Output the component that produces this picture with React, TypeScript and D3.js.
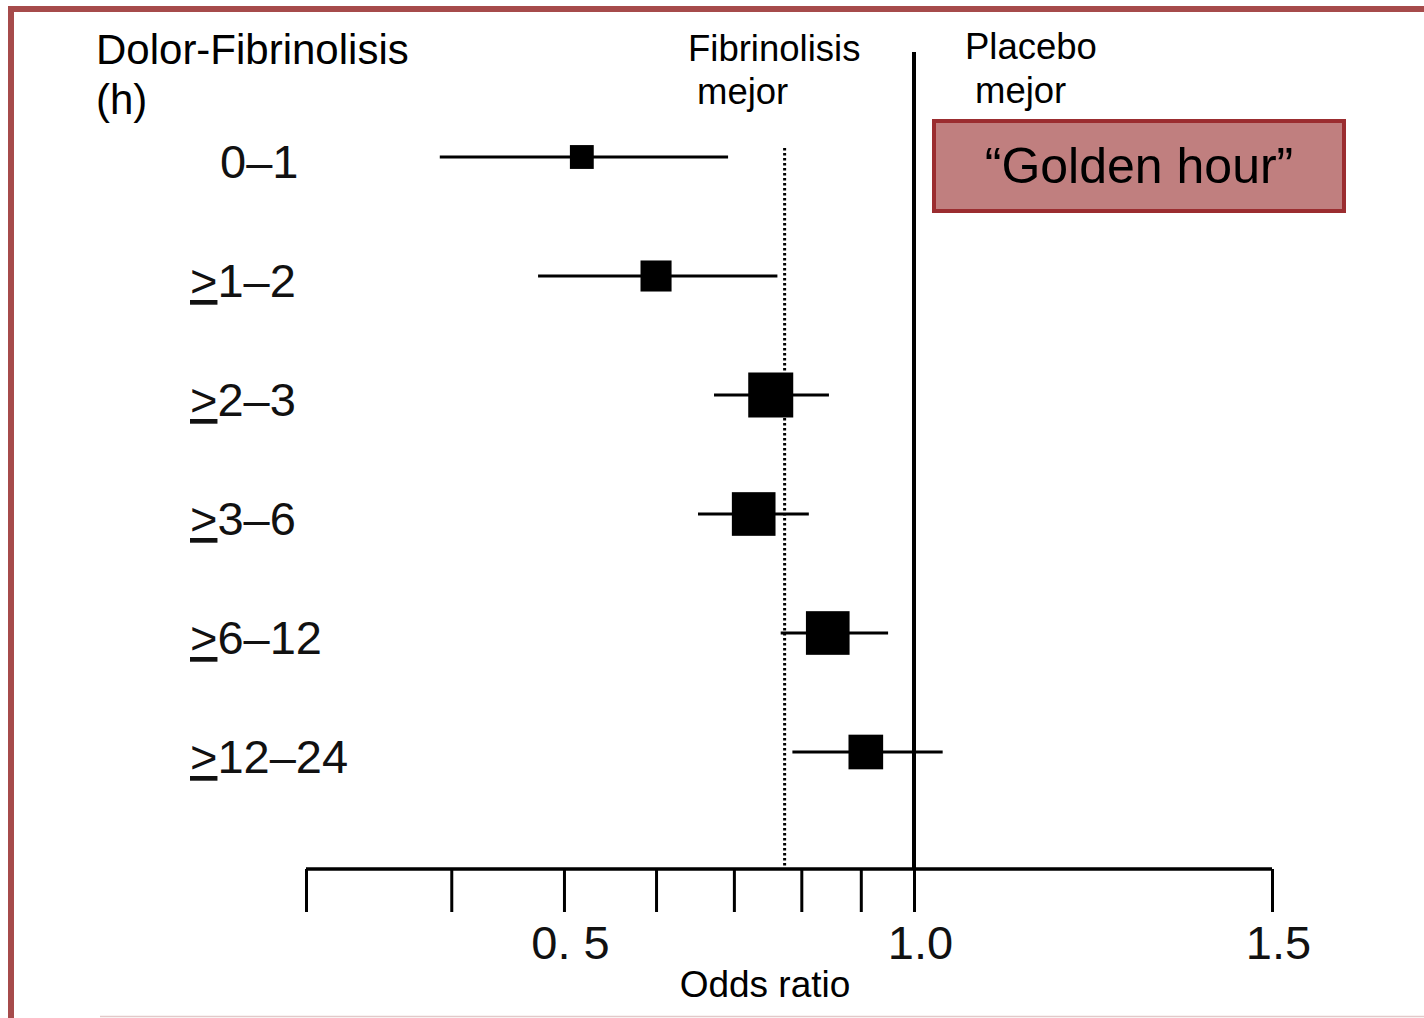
import React, { useRef, useEffect } from 'react';
import * as d3 from 'd3';

const width = 1424;
const height = 1018;

// time from pain onset to fibrinolysis (h)
const categories = ['0–1', '1–2', '2–3', '3–6', '6–12', '12–24'];
const oddsRatio = [0.518, 0.6, 0.753, 0.728, 0.843, 0.909];
const ciLow = [0.391, 0.475, 0.673, 0.652, 0.768, 0.786];
const ciHigh = [0.692, 0.763, 0.845, 0.812, 0.95, 1.033];
// relative weight of each subgroup (box size)
const weights = [0.53, 0.69, 1.0, 0.97, 0.97, 0.77];
const pooledOR = 0.774;
const tickValues = [0.3, 0.4, 0.5, 0.6, 0.7, 0.8, 0.9, 1.0, 1.5];
const tickLabels: Record<string, string> = { '0.5': '0. 5', '1': '1.0', '1.5': '1.5' };

const font = '"Liberation Sans", Arial, sans-serif';
const frameColor = '#a64b4b';

const App = () => {
  const axisRef = useRef<SVGGElement>(null);

  // log scale, with the 1.5 end glued on as in the original figure
  const x = d3.scaleLog().domain([0.3, 1, 1.5]).range([306, 914, 1272]);
  const y = d3.scalePoint<string>().domain(categories).range([157, 752]);
  const box = d3.scaleLinear().domain([0, 1]).range([0, 45]);
  const axisY = 869;

  useEffect(() => {
    const g = d3.select(axisRef.current);
    g.selectAll('*').remove();
    g.call(
      d3.axisBottom(x)
        .tickValues(tickValues)
        .tickSize(43)
        .tickSizeOuter(0)
        .tickPadding(14)
        .tickFormat((d) => tickLabels[String(d)] ?? '')
    );
    g.select('.domain').attr('stroke-width', 3.5).attr('d', `M${x(0.3)},0H${x(1.5)}`);
    g.selectAll('.tick line').attr('stroke-width', 3);
    g.selectAll('.tick text')
      .attr('font-family', font)
      .attr('font-size', 47)
      .attr('fill', '#111')
      .attr('dx', 6);
  }, []);

  return (
    <svg width={width} height={height} style={{ position: 'absolute', left: 0, top: 0 }}>
      <rect width={width} height={height} fill="#fff" />
      {/* slide frame */}
      <rect x={8} y={6} width={width} height={6} fill={frameColor} />
      <rect x={8} y={6} width={6} height={height} fill={frameColor} />
      <line x1={100} x2={width} y1={1016.5} y2={1016.5} stroke="#e2c9c9" strokeWidth={1.5} />

      {/* headers */}
      <text x={96} y={64} fontFamily={font} fontSize={42} fill="#000">Dolor-Fibrinolisis</text>
      <text x={96} y={114} fontFamily={font} fontSize={42} fill="#000">(h)</text>
      <text x={688} y={61} fontFamily={font} fontSize={36.5} fill="#000">Fibrinolisis</text>
      <text x={697} y={104} fontFamily={font} fontSize={36.5} fill="#000">mejor</text>
      <text x={965} y={59} fontFamily={font} fontSize={36.5} fill="#000">Placebo</text>
      <text x={975} y={103} fontFamily={font} fontSize={36.5} fill="#000">mejor</text>

      {/* reference lines */}
      <line x1={x(1)} x2={x(1)} y1={52} y2={axisY} stroke="#000" strokeWidth={4} />
      <line x1={x(pooledOR)} x2={x(pooledOR)} y1={148} y2={axisY} stroke="#000"
        strokeWidth={3} strokeDasharray="2.5 2.5" />

      {/* rows */}
      {categories.map((c, i) => {
        const cy = y(c)!;
        const s = box(weights[i]);
        return (
          <g key={c}>
            {i === 0 ? (
              <text x={220} y={cy + 21} fontFamily={font} fontSize={47} fill="#111">{c}</text>
            ) : (
              <text x={190} y={cy + 21} fontFamily={font} fontSize={47} fill="#111">
                <tspan textDecoration="underline">&gt;</tspan>{c}
              </text>
            )}
            <line x1={x(ciLow[i])} x2={x(ciHigh[i])} y1={cy} y2={cy} stroke="#000" strokeWidth={3} />
            <rect x={x(oddsRatio[i]) - s / 2} y={cy - s / 2} width={s} height={s} fill="#000" />
          </g>
        );
      })}

      {/* axis */}
      <g ref={axisRef} transform={`translate(0,${axisY})`} />
      <text x={765} y={997} textAnchor="middle" fontFamily={font} fontSize={37} fill="#000">Odds ratio</text>

      {/* callout */}
      <rect x={934} y={121} width={410} height={90} fill="#c07f7f" stroke="#9b2d30" strokeWidth={4} />
      <text x={1139} y={183} textAnchor="middle" fontFamily={font} fontSize={50} fill="#000">
        “Golden hour”
      </text>
    </svg>
  );
};

export default App;
